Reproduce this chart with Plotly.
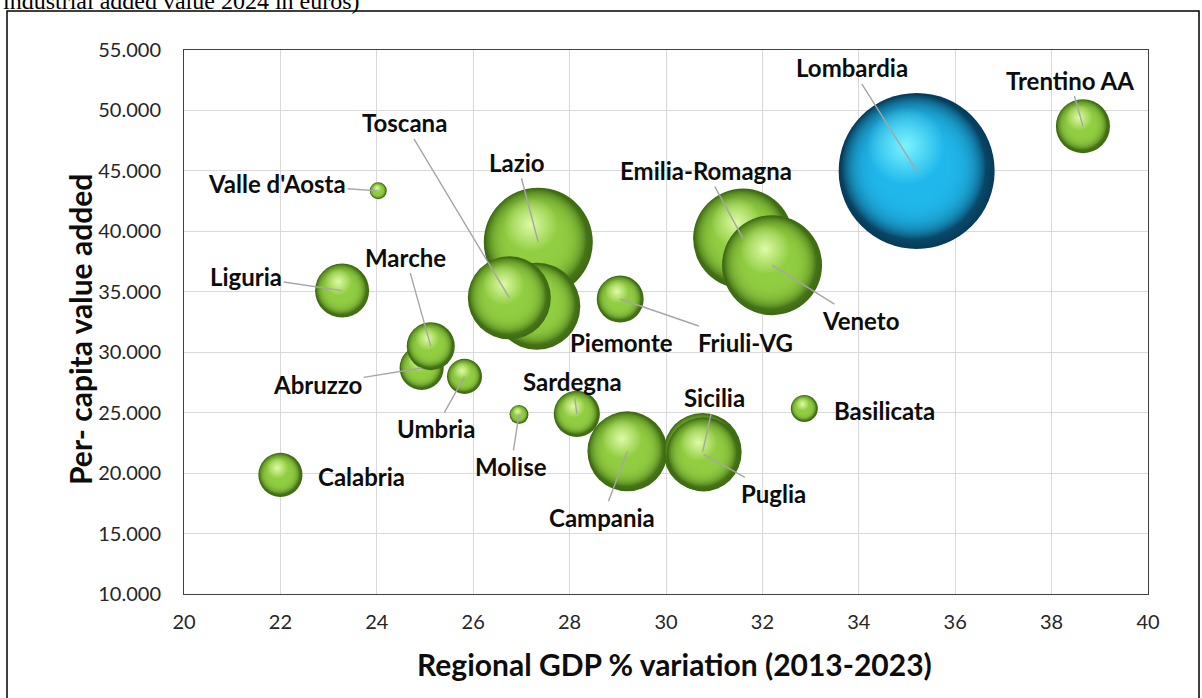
import math
import plotly.graph_objects as go

# ---- data -------------------------------------------------------------
regions = ["Valle d'Aosta", "Liguria", "Calabria", "Abruzzo", "Marche", "Umbria",
           "Molise", "Lazio", "Piemonte", "Toscana", "Friuli-VG", "Sardegna",
           "Campania", "Sicilia", "Puglia", "Basilicata", "Emilia-Romagna",
           "Veneto", "Lombardia", "Trentino AA"]
gdp_variation = [24.03, 23.28, 22.0, 24.93, 25.12, 25.82,
                 26.95, 27.35, 27.32, 26.75, 29.05, 28.15,
                 29.2, 30.76, 30.78, 32.87, 31.6,
                 32.2, 35.2, 38.65]
va_per_capita = [43350, 35100, 19850, 28700, 30500, 28000,
                 24850, 39100, 33800, 34500, 34400, 24900,
                 21800, 21750, 21550, 25350, 39400,
                 37200, 45000, 48700]
industrial_va_bn = [1.13, 11.4, 7.6, 7.6, 9.0, 4.8,
                    1.4, 46.4, 29.5, 26.9, 8.6, 8.3,
                    25.0, 23.8, 21.4, 2.85, 39.0,
                    39.0, 95.0, 11.4]

x_ticks = [20, 22, 24, 26, 28, 30, 32, 34, 36, 38, 40]
y_ticks = [10000, 15000, 20000, 25000, 30000, 35000, 40000, 45000, 50000, 55000]

# ---- geometry ---------------------------------------------------------
W, H = 1202, 698
ML, MR, MT, MB = 184, 54, 50, 104
PW, PH = W - ML - MR, H - MT - MB
X_RANGE = [20, 40]
Y_RANGE = [10000, 55000]
MAX_DIAM = 156
SIZEREF = 2.0 * max(industrial_va_bn) / MAX_DIAM ** 2

px_per_x = PW / (X_RANGE[1] - X_RANGE[0])
px_per_y = PH / (Y_RANGE[1] - Y_RANGE[0])


def px_x(px):
    return (px - ML) / PW


def px_y(py):
    return (H - MB - py) / PH


def diameter(v):
    return 2.0 * math.sqrt(v / (2.0 * SIZEREF))


def sphere(rim, core, body, light, n_body=5):
    """Shading layers: (scale, dx, dy, rim colour, centre colour).
    plotly's radial gradient runs from gradient.color (centre) to marker.color (rim);
    several stacked fading discs give a flat body with a darker edge."""
    layers = [(1.00, 0.00, 0.00, rim, core)]
    layers += [(0.93, -0.02, -0.025, f"rgba({body},0)", f"rgba({body},1)")] * n_body
    layers.append((0.50, -0.07, -0.16, f"rgba({light},0)", f"rgba({light},0.95)"))
    return layers


GREEN = sphere("#3d6912", "#86c23a", "146,206,66", "226,252,172")
BLUE = sphere("#063a58", "#1cb0e4", "32,184,236", "130,246,255")
palette = {"Lombardia": BLUE}

fig = go.Figure()
for name, gx, gy, va in zip(regions, gdp_variation, va_per_capita, industrial_va_bn):
    d = diameter(va)
    for scale, fx, fy, rim, centre in palette.get(name, GREEN):
        fig.add_trace(go.Scatter(
            x=[gx + fx * d / px_per_x],
            y=[gy - fy * d / px_per_y],
            mode="markers",
            marker=dict(size=[va * scale ** 2], sizemode="area", sizeref=SIZEREF,
                        color=rim, opacity=1, line=dict(width=0),
                        gradient=dict(type="radial", color=centre)),
            hoverinfo="skip" if scale < 1 else "text",
            text=[name],
            showlegend=False,
        ))

# ---- data labels (pixel offsets from each bubble centre) ---------------
label_pos = {
    "Lombardia": (-65, -103, True),
    "Trentino AA": (-13, -46, True),
    "Emilia-Romagna": (-37, -68, True),
    "Veneto": (88, 55, True),
    "Lazio": (-21, -80, True),
    "Toscana": (-105, -175, True),
    "Valle d'Aosta": (-101, -7, True),
    "Liguria": (-96, -14, True),
    "Marche": (-25, -89, True),
    "Abruzzo": (-104, 17, True),
    "Umbria": (-29, 52, True),
    "Molise": (-8, 52, True),
    "Sardegna": (-4, -32, True),
    "Campania": (-25, 66, True),
    "Sicilia": (12, -54, True),
    "Puglia": (70, 39, True),
    "Piemonte": (85, 36, False),
    "Friuli-VG": (125, 43, True),
    "Basilicata": (80, 2, False),
    "Calabria": (81, 2, False),
}
label_font = dict(family="Lato, 'Open Sans', sans-serif", size=24, color="#0d0d0d", weight="bold")

annotations = []
for name, gx, gy in zip(regions, gdp_variation, va_per_capita):
    dx, dy, arrow = label_pos[name]
    if arrow:
        annotations.append(dict(x=gx, y=gy, xref="x", yref="y", text=name, font=label_font,
                                showarrow=True, ax=dx, ay=dy, arrowhead=0, arrowwidth=1.4,
                                arrowcolor="#a6a6a6", standoff=0))
    else:
        annotations.append(dict(x=gx, y=gy, xref="x", yref="y", text=name, font=label_font,
                                showarrow=False, xshift=dx, yshift=-dy))

# axis titles
title_font = dict(family="Lato, 'Open Sans', sans-serif", size=30, color="#0d0d0d", weight="bold")
annotations.append(dict(x=px_x(674), y=px_y(664), xref="paper", yref="paper",
                        text="Regional GDP % variation (2013-2023)", showarrow=False,
                        font=title_font, xanchor="center", yanchor="middle"))
annotations.append(dict(x=px_x(80), y=px_y(330), xref="paper", yref="paper",
                        text="Per- capita value added", showarrow=False, textangle=-90,
                        font=title_font, xanchor="center", yanchor="middle"))
# caption line running above the frame
annotations.append(dict(x=px_x(1), y=px_y(16), xref="paper", yref="paper",
                        text="industrial added value 2024 in euros)", showarrow=False,
                        font=dict(family="'Liberation Serif', 'Times New Roman', serif",
                                  size=24, color="#000000"),
                        xanchor="left", yanchor="bottom"))

shapes = [dict(type="rect", xref="paper", yref="paper",
               x0=px_x(7), x1=px_x(1199), y0=px_y(702), y1=px_y(11),
               line=dict(color="#000000", width=1.5), fillcolor="rgba(0,0,0,0)")]

tick_font = dict(family="Lato, 'Open Sans', sans-serif", size=20, color="#262626")
fig.update_layout(
    width=W, height=H,
    margin=dict(l=ML, r=MR, t=MT, b=MB, autoexpand=False),
    paper_bgcolor="white", plot_bgcolor="white",
    separators=",.",
    annotations=annotations,
    shapes=shapes,
    xaxis=dict(range=X_RANGE, tickvals=x_ticks, showgrid=True, gridcolor="#d9d9d9",
               gridwidth=1, zeroline=False, showline=True, mirror=True,
               linecolor="#404040", linewidth=1, ticks="", tickfont=tick_font,
               ticklabelstandoff=10, fixedrange=True),
    yaxis=dict(range=Y_RANGE, tickvals=y_ticks, tickformat=",d", showgrid=True,
               gridcolor="#d9d9d9", gridwidth=1, zeroline=False, showline=True,
               mirror=True, linecolor="#404040", linewidth=1, ticks="",
               tickfont=tick_font, ticklabelstandoff=18, fixedrange=True),
    hovermode="closest",
)

fig.write_html("out.html")
